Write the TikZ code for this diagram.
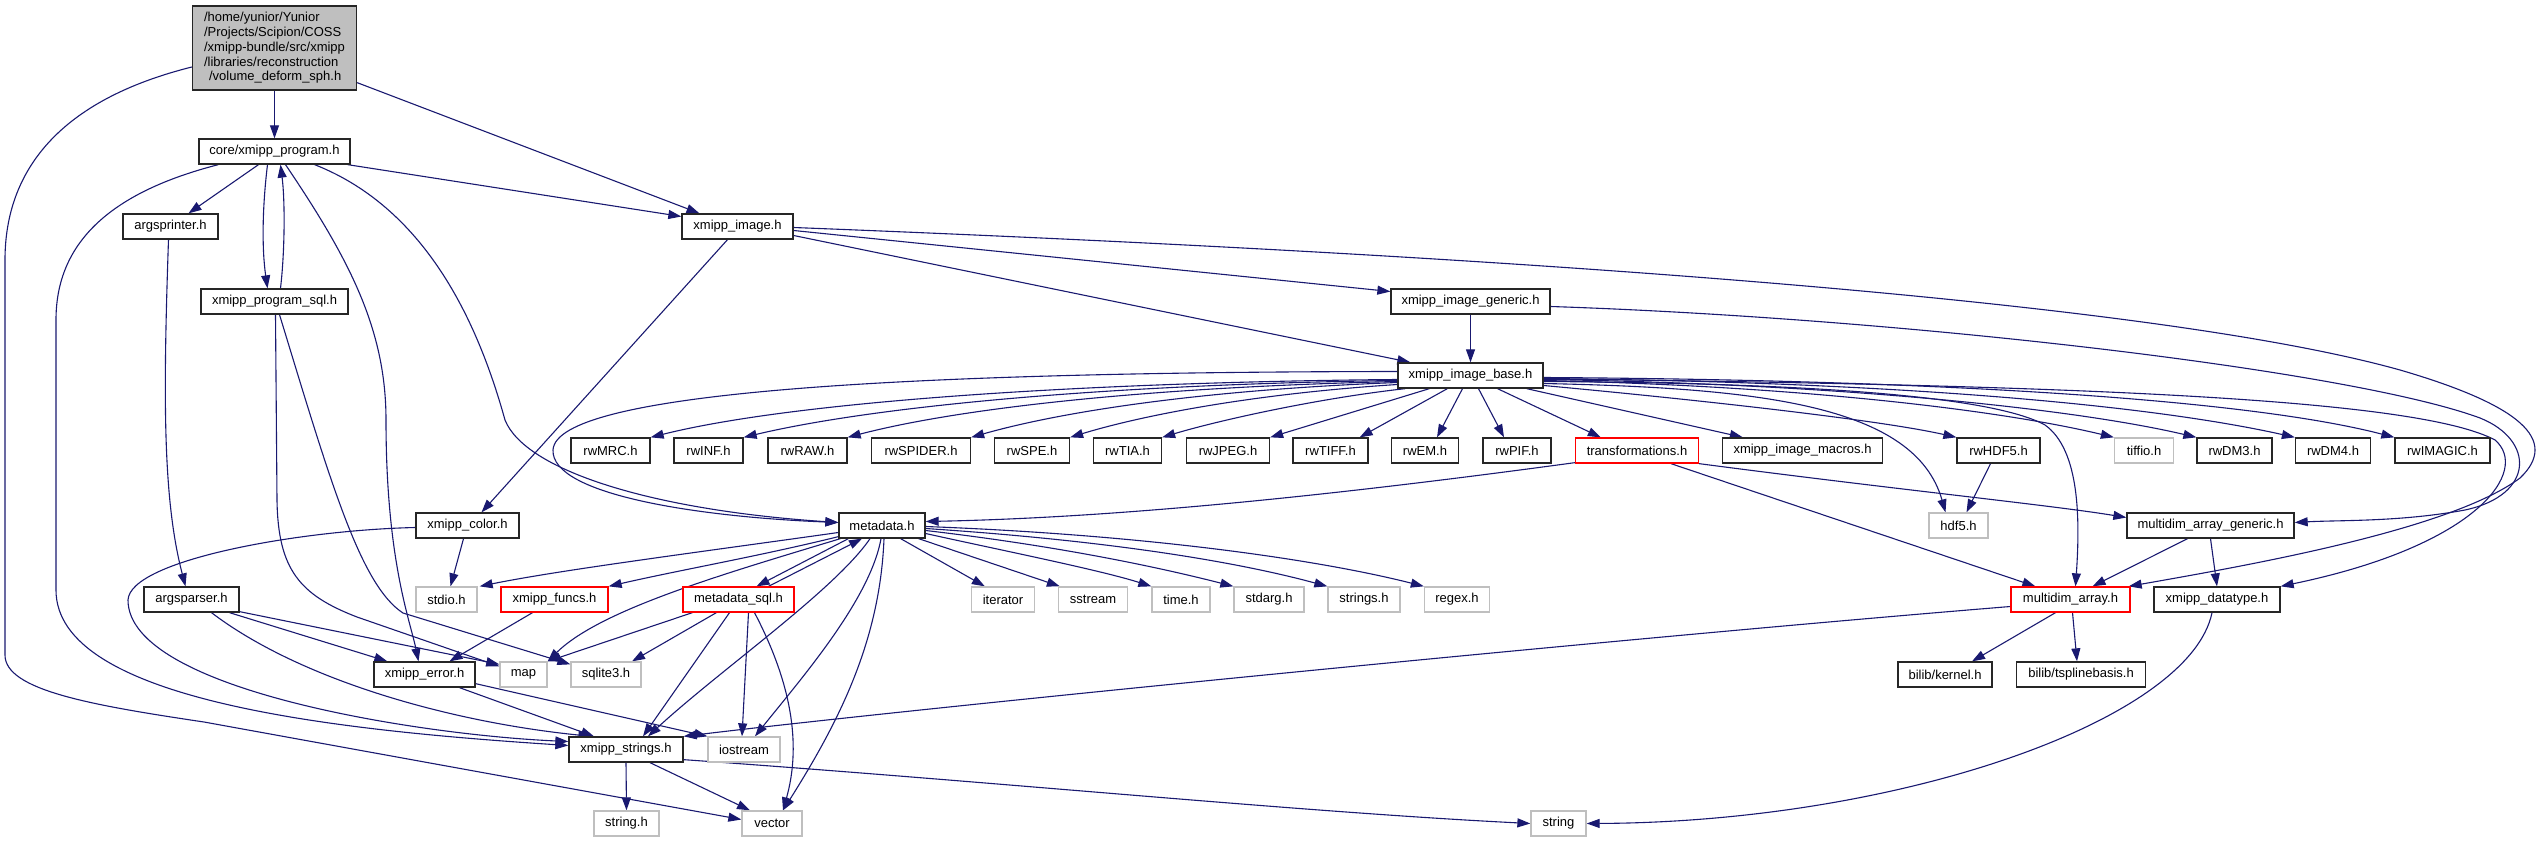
\documentclass[tikz,border=0pt]{standalone}
\usepackage{fontspec}
\setmainfont{Liberation Sans}
\usetikzlibrary{arrows.meta,calc,backgrounds}
\definecolor{edgec}{HTML}{191970}
\definecolor{sysgray}{HTML}{BFBFBF}
\definecolor{rootgray}{HTML}{BFBFBF}
\newcommand{\nfont}{\fontsize{13}{14.8}\selectfont}
\tikzset{
  box/.style={draw=black!85, line width=1.3pt, minimum height=25, inner sep=0pt, fill=white, font=\nfont},
  sys/.style={box, draw=sysgray},
  trunc/.style={box, draw=red},
  dep/.style={draw=edgec, line width=1.1pt, -{Triangle[length=13pt,width=9pt]}},
}
\begin{document}
\begin{tikzpicture}[x=1pt,y=-1pt]
\useasboundingbox (0,0) rectangle (2537,843);
% nodes
\node[box, fill=rootgray, minimum width=164, minimum height=84, align=left] (root) at (274.5,48) {/home/yunior/Yunior\\/Projects/Scipion/COSS\\/xmipp-bundle/src/xmipp\\/libraries/reconstruction\\\hspace*{5pt}/volume\_deform\_sph.h};
\node[box, minimum width=151] (prog) at (274.5,151.5) {core/xmipp\_program.h};
\node[box, minimum width=95] (aprinter) at (170.5,226.5) {argsprinter.h};
\node[box, minimum width=147] (psql) at (274.5,301.5) {xmipp\_program\_sql.h};
\node[box, minimum width=111] (img) at (737.5,226.5) {xmipp\_image.h};
\node[box, minimum width=159] (imggen) at (1470.5,301.5) {xmipp\_image\_generic.h};
\node[box, minimum width=145] (imgbase) at (1470.5,375.5) {xmipp\_image\_base.h};
\node[box, minimum width=79] (rwMRC) at (610.5,450.5) {rwMRC.h};
\node[box, minimum width=69] (rwINF) at (708.5,450.5) {rwINF.h};
\node[box, minimum width=79] (rwRAW) at (807.5,450.5) {rwRAW.h};
\node[box, minimum width=99] (rwSPIDER) at (921,450.5) {rwSPIDER.h};
\node[box, minimum width=75] (rwSPE) at (1032,450.5) {rwSPE.h};
\node[box, minimum width=68] (rwTIA) at (1127.5,450.5) {rwTIA.h};
\node[box, minimum width=83] (rwJPEG) at (1228,450.5) {rwJPEG.h};
\node[box, minimum width=75] (rwTIFF) at (1330.5,450.5) {rwTIFF.h};
\node[box, minimum width=67] (rwEM) at (1425,450.5) {rwEM.h};
\node[box, minimum width=68] (rwPIF) at (1517,450.5) {rwPIF.h};
\node[trunc, minimum width=123] (transf) at (1637,450.5) {transformations.h};
\node[box, minimum width=160] (macros) at (1802.5,450.5) {xmipp\_image\_macros.h};
\node[box, minimum width=83] (rwHDF5) at (1998.5,450.5) {rwHDF5.h};
\node[sys, minimum width=59] (tiffio) at (2144,450.5) {tiffio.h};
\node[box, minimum width=75] (rwDM3) at (2234.5,450.5) {rwDM3.h};
\node[box, minimum width=75] (rwDM4) at (2333,450.5) {rwDM4.h};
\node[box, minimum width=95] (rwIMAGIC) at (2442.5,450.5) {rwIMAGIC.h};
\node[box, minimum width=103] (color) at (467.5,525.5) {xmipp\_color.h};
\node[box, minimum width=86] (metadata) at (882,525.5) {metadata.h};
\node[sys, minimum width=59] (hdf5) at (1958.5,525.5) {hdf5.h};
\node[box, minimum width=167] (madgen) at (2210.5,525.5) {multidim\_array\_generic.h};
\node[box, minimum width=95] (aparser) at (191.5,599.5) {argsparser.h};
\node[sys, minimum width=61] (stdio) at (446.5,599.5) {stdio.h};
\node[trunc, minimum width=107] (funcs) at (554.5,599.5) {xmipp\_funcs.h};
\node[trunc, minimum width=111] (mdsql) at (738.5,599.5) {metadata\_sql.h};
\node[sys, minimum width=63] (iterator) at (1003,599.5) {iterator};
\node[sys, minimum width=69] (sstream) at (1093,599.5) {sstream};
\node[sys, minimum width=58] (time) at (1181,599.5) {time.h};
\node[sys, minimum width=70] (stdarg) at (1269,599.5) {stdarg.h};
\node[sys, minimum width=72] (strings) at (1364,599.5) {strings.h};
\node[sys, minimum width=65] (regex) at (1457,599.5) {regex.h};
\node[trunc, minimum width=119] (mda) at (2070.5,599.5) {multidim\_array.h};
\node[box, minimum width=126] (dtype) at (2217,599.5) {xmipp\_datatype.h};
\node[box, minimum width=101] (error) at (424.5,674.5) {xmipp\_error.h};
\node[sys, minimum width=47] (map) at (523.5,674.5) {map};
\node[sys, minimum width=70] (sqlite) at (606,674.5) {sqlite3.h};
\node[box, minimum width=94] (kernel) at (1945,674.5) {bilib/kernel.h};
\node[box, minimum width=129] (tspline) at (2081,674.5) {bilib/tsplinebasis.h};
\node[box, minimum width=114] (xstr) at (626,749.5) {xmipp\_strings.h};
\node[sys, minimum width=72] (iostream) at (744,749.5) {iostream};
\node[sys, minimum width=65] (stringh) at (626.5,823.5) {string.h};
\node[sys, minimum width=60] (vector) at (772,823.5) {vector};
\node[sys, minimum width=55] (string) at (1558.5,823.5) {string};
% edges
\begin{scope}[on background layer]
\draw[dep] (root.south) -- (prog.north);
\draw[dep] ($(root.south east)+(0,-8)$) -- ($(img.north)+(-38,0)$);
\draw[dep] ($(root.west)+(0,19)$) .. controls (60,100) and (5,170) .. (5,260) -- (5,655) .. controls (5,690) and (90,705) .. (204,722) -- ($(vector.west)+(0,-4)$);
\draw[dep] ($(prog.south)+(-16,0)$) -- ($(aprinter.north)+(18,0)$);
\draw[dep] ($(prog.south)+(-7,0)$) .. controls (262,210) and (262,250) .. ($(psql.north)+(-7,0)$);
\draw[dep] ($(psql.north)+(6,0)$) .. controls (285,250) and (285,200) .. ($(prog.south)+(6,0)$);
\draw[dep] ($(prog.south east)+(-3,0)$) -- ($(img.west)+(0,-10)$);
\draw[dep] ($(prog.south west)+(20,0)$) .. controls (100,195) and (56,250) .. (56,320) -- (56,590) .. controls (56,700) and (330,730) .. ($(xstr.west)+(0,-4)$);
\draw[dep] ($(prog.south)+(11,0)$) .. controls (350,260) and (386,330) .. (386,420) .. controls (386,560) and (410,620) .. ($(error.north)+(-6,0)$);
\draw[dep] ($(prog.south east)+(-36,0)$) .. controls (430,210) and (480,330) .. (505,420) .. controls (525,470) and (650,510) .. ($(metadata.west)+(0,-3)$);
\draw[dep] ($(aprinter.south)+(-2,0)$) .. controls (163,400) and (163,500) .. ($(aparser.north)+(-6,0)$);
\draw[dep] ($(psql.south)+(1,0)$) -- (277,500) .. controls (278,570) and (300,595) .. (357,617) -- ($(map.north west)+(0,5)$);
\draw[dep] ($(psql.south)+(5,0)$) .. controls (330,480) and (360,585) .. (403,613) -- ($(sqlite.north west)+(0,3)$);
\draw[dep] ($(img.south)+(-10,0)$) -- ($(color.north)+(14,0)$);
\draw[dep] ($(img.east)+(0,4)$) -- ($(imggen.west)+(0,-10)$);
\draw[dep] ($(img.east)+(0,9)$) -- ($(imgbase.north west)+(13,0)$);
\draw[dep] ($(img.east)+(0,1)$) .. controls (1500,255) and (2150,300) .. (2400,370) .. controls (2520,405) and (2560,440) .. (2520,478) .. controls (2450,530) and (2250,565) .. ($(mda.north east)+(-2,0)$);
\draw[dep] (imggen.south) -- (imgbase.north);
\draw[dep] ($(imggen.east)+(0,5)$) .. controls (1900,318) and (2350,370) .. (2480,418) .. controls (2535,440) and (2535,495) .. (2465,510) .. controls (2400,522) and (2340,520) .. ($(madgen.east)+(0,-3)$);
% imgbase
\draw[dep] ($(imgbase.west)+(0,-4)$) .. controls (900,372) and (556,392) .. (553,450) .. controls (551,495) and (700,517) .. ($(metadata.west)+(0,-3)$);
\draw[dep] ($(imgbase.west)+(0,4)$) .. controls (1100,382) and (800,400) .. (rwMRC.north east);
\draw[dep] ($(imgbase.west)+(0,5)$) .. controls (1120,384) and (880,405) .. (rwINF.north east);
\draw[dep] ($(imgbase.west)+(0,6)$) .. controls (1150,387) and (960,408) .. (rwRAW.north east);
\draw[dep] ($(imgbase.west)+(0,7)$) .. controls (1200,390) and (1060,412) .. (rwSPIDER.north east);
\draw[dep] ($(imgbase.west)+(0,9)$) .. controls (1250,394) and (1140,416) .. (rwSPE.north east);
\draw[dep] ($(imgbase.south west)+(8,0)$) .. controls (1320,398) and (1220,420) .. (rwTIA.north east);
\draw[dep] ($(imgbase.south west)+(32,0)$) -- (rwJPEG.north east);
\draw[dep] ($(imgbase.south west)+(50,0)$) -- ($(rwTIFF.north east)+(-9,0)$);
\draw[dep] ($(imgbase.south)+(-8,0)$) -- ($(rwEM.north)+(12,0)$);
\draw[dep] ($(imgbase.south)+(8,0)$) -- ($(rwPIF.north)+(-13,0)$);
\draw[dep] ($(imgbase.south)+(27,0)$) -- ($(transf.north west)+(26,0)$);
\draw[dep] ($(imgbase.south east)+(-17,0)$) -- ($(macros.north west)+(21,0)$);
\draw[dep] ($(imgbase.east)+(0,10)$) .. controls (1700,400) and (1880,420) .. (rwHDF5.north west);
\draw[dep] ($(imgbase.east)+(0,8)$) .. controls (1760,388) and (1915,405) .. ($(hdf5.north)+(-13,0)$);
\draw[dep] ($(imgbase.east)+(0,6)$) .. controls (1800,383) and (1990,395) .. (2045,425) .. controls (2080,450) and (2080,520) .. ($(mda.north)+(5,0)$);
\draw[dep] ($(imgbase.east)+(0,5)$) .. controls (1800,386) and (2000,410) .. (tiffio.north west);
\draw[dep] ($(imgbase.east)+(0,4)$) .. controls (1850,384) and (2080,410) .. (rwDM3.north west);
\draw[dep] ($(imgbase.east)+(0,3)$) .. controls (1900,382) and (2150,405) .. (rwDM4.north west);
\draw[dep] ($(imgbase.east)+(0,2)$) .. controls (1950,380) and (2250,400) .. (rwIMAGIC.north west);
\draw[dep] ($(imgbase.east)+(0,3.5)$) .. controls (2100,385) and (2420,400) .. (2495,440) .. controls (2530,470) and (2480,545) .. (dtype.north east);
% transformations
\draw[dep] ($(transf.south west)+(0,-1)$) .. controls (1300,500) and (1100,518) .. ($(metadata.east)+(0,-4)$);
\draw[dep] ($(transf.south)+(34,0)$) -- ($(mda.north west)+(25,0)$);
\draw[dep] (transf.south east) .. controls (1900,490) and (2050,505) .. ($(madgen.west)+(0,-8)$);
\draw[dep] ($(rwHDF5.south)+(-8,0)$) -- ($(hdf5.north)+(8,0)$);
\draw[dep] ($(madgen.south)+(-23,0)$) -- ($(mda.north)+(22,0)$);
\draw[dep] (madgen.south) -- (dtype.north);
\draw[dep] ($(mda.south)+(-15,0)$) -- ($(kernel.north)+(27,0)$);
\draw[dep] ($(mda.south)+(2,0)$) -- ($(tspline.north)+(-4,0)$);
\draw[dep] ($(mda.west)+(0,7)$) .. controls (1600,640) and (900,710) .. (xstr.north east);
\draw[dep] ($(dtype.south)+(-5,0)$) .. controls (2190,720) and (1900,822) .. (string.east);
\draw[dep] ($(xstr.south east)+(0,-3)$) .. controls (1000,782) and (1300,812) .. (string.west);
\draw[dep] (xstr.south) -- (stringh.north);
\draw[dep] ($(xstr.south)+(24,0)$) -- ($(vector.north)+(-22,0)$);
\draw[dep] ($(error.south)+(35,0)$) -- ($(xstr.north)+(-32,0)$);
\draw[dep] ($(error.south east)+(0,-4)$) -- (iostream.north west);
\draw[dep] ($(aparser.south east)+(0,-1)$) -- ($(map.north west)+(0,3)$);
\draw[dep] ($(aparser.south)+(38,0)$) -- ($(error.north west)+(14,0)$);
\draw[dep] ($(aparser.south)+(20,0)$) .. controls (300,680) and (450,722) .. ($(xstr.north west)+(23,0)$);
\draw[dep] ($(color.south)+(-4,0)$) -- ($(stdio.north)+(4,0)$);
\draw[dep] ($(color.west)+(0,2)$) .. controls (300,530) and (130,560) .. (128,600) .. controls (128,690) and (420,735) .. ($(xstr.west)+(0,-8)$);
\draw[dep] ($(funcs.south)+(-22,0)$) -- ($(error.north)+(25,0)$);
% metadata
\draw[dep] ($(metadata.west)+(0,7)$) .. controls (700,552) and (560,570) .. ($(stdio.north east)+(2,0)$);
\draw[dep] ($(metadata.south west)+(0,-2)$) .. controls (760,556) and (680,570) .. (funcs.north east);
\draw[dep] ($(metadata.south west)+(2,0)$) .. controls (720,575) and (600,610) .. (map.north east);
\draw[dep] ($(metadata.south west)+(10,0)$) -- ($(mdsql.north)+(18,0)$);
\draw[dep] ($(mdsql.north)+(30,0)$) -- ($(metadata.south)+(-20,0)$);
\draw[dep] ($(metadata.south)+(-12,0)$) .. controls (835,590) and (720,670) .. ($(xstr.north)+(22,0)$);
\draw[dep] ($(metadata.south)+(-1,0)$) .. controls (870,600) and (800,680) .. ($(iostream.north)+(11,0)$);
\draw[dep] ($(metadata.south)+(2,0)$) .. controls (880,640) and (840,720) .. ($(vector.north)+(11,0)$);
\draw[dep] ($(metadata.south east)+(-25,0)$) -- ($(iterator.north west)+(14,0)$);
\draw[dep] ($(metadata.south east)+(-7,0)$) -- ($(sstream.north west)+(2,0)$);
\draw[dep] ($(metadata.east)+(0,8)$) .. controls (1000,550) and (1100,570) .. (time.north west);
\draw[dep] ($(metadata.east)+(0,5)$) .. controls (1050,545) and (1150,565) .. (stdarg.north west);
\draw[dep] ($(metadata.east)+(0,3)$) .. controls (1100,540) and (1230,560) .. (strings.north west);
\draw[dep] ($(metadata.east)+(0,1)$) .. controls (1150,535) and (1320,560) .. (regex.north west);
% metadata_sql
\draw[dep] ($(mdsql.south west)+(10,0)$) -- (map.north east);
\draw[dep] ($(mdsql.south west)+(34,0)$) -- ($(sqlite.north)+(26,0)$);
\draw[dep] ($(mdsql.south)+(-9,0)$) -- ($(xstr.north)+(17,0)$);
\draw[dep] ($(mdsql.south)+(10,0)$) -- ($(iostream.north)+(-2,0)$);
\draw[dep] ($(mdsql.south)+(16,0)$) .. controls (795,690) and (800,750) .. ($(vector.north)+(11,0)$);
\end{scope}
\end{tikzpicture}
\end{document}
